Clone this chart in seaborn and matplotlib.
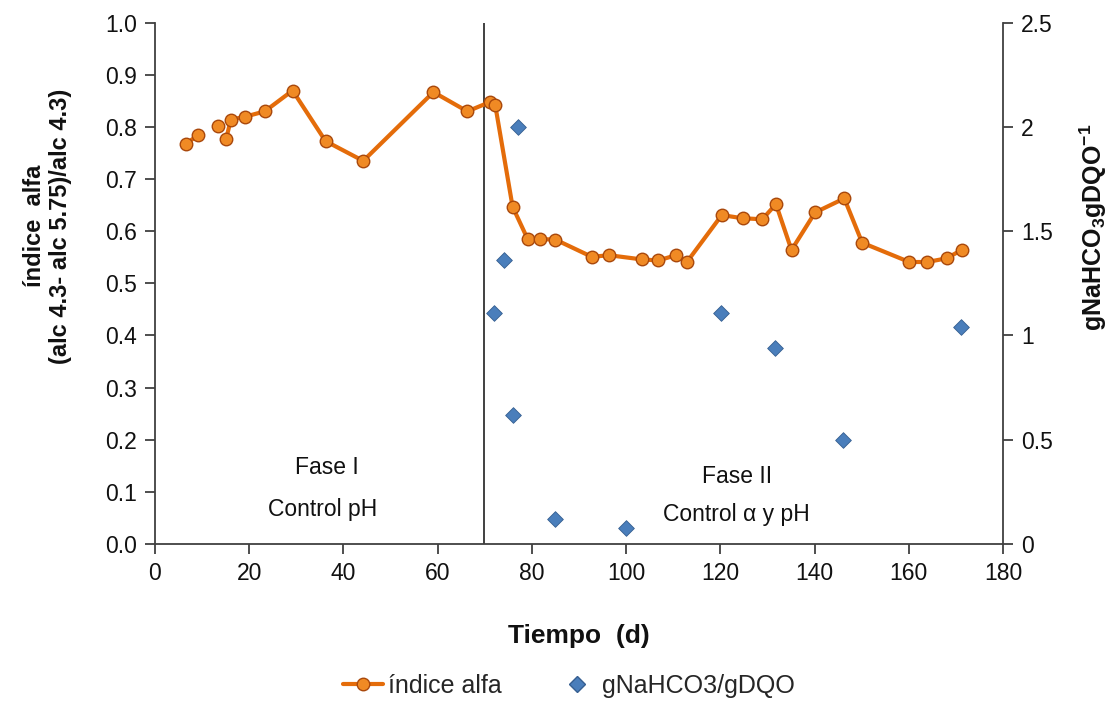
import numpy as np
import pandas as pd
import matplotlib
matplotlib.use("Agg")
import matplotlib.pyplot as plt
import seaborn as sns
from matplotlib.lines import Line2D

# ---------------- data ----------------
dias_alfa = [6.5, 9.2, 13.4, 15.1, 16.1, 19.2, 23.3, 29.2, 36.2, 44.2, 59.1, 66.3,
             71.1, 72.2, 75.9, 79.1, 81.8, 85.0, 92.7, 96.4, 103.3, 106.8, 110.6,
             112.9, 120.3, 124.7, 128.9, 131.8, 135.1, 140.1, 146.3, 150.1, 160.1,
             163.9, 168.0, 171.2]
indice_alfa = [0.767, 0.785, 0.801, 0.777, 0.814, 0.820, 0.830, 0.870, 0.773, 0.735,
               0.867, 0.830, 0.848, 0.843, 0.647, 0.585, 0.585, 0.584, 0.551, 0.554,
               0.546, 0.544, 0.554, 0.541, 0.631, 0.625, 0.623, 0.652, 0.564, 0.636,
               0.663, 0.578, 0.541, 0.541, 0.548, 0.564]
# segment id (the original series has gaps after day 9 and day 13)
tramo_alfa = [0, 0, 1] + [2] * 33

dias_bic = [72.0, 74.1, 75.9, 77.0, 84.9, 100.0, 120.1, 131.6, 146.1, 171.0]
bic_dqo = [1.11, 1.36, 0.62, 2.0, 0.12, 0.075, 1.11, 0.94, 0.50, 1.04]

x_ticks = list(range(0, 181, 20))
y_left_ticks = [round(0.1 * i, 1) for i in range(11)]
y_right_ticks = [0, 0.5, 1, 1.5, 2, 2.5]
y_right_labels = ["0", "0.5", "1", "1.5", "2", "2.5"]
limite_fases = 69.8

fase1_texto = ["Fase I", "Control pH"]
fase2_texto = ["Fase II", "Control \u03b1 y pH"]

# ---------------- style ----------------
sns.set_style("ticks")
plt.rcParams["font.family"] = ["Liberation Sans", "DejaVu Sans"]
plt.rcParams["mathtext.fontset"] = "custom"
plt.rcParams["mathtext.rm"] = "Liberation Sans"
plt.rcParams["mathtext.bf"] = "Liberation Sans:bold"

naranja = "#E46C0A"
naranja_cara = "#F08A24"
naranja_borde = "#A9480C"
azul = "#4A7EBB"
azul_borde = "#365F91"
gris = "#404040"
texto = "#111111"

fig = plt.figure(figsize=(11.15, 7.12), dpi=100)
ax = fig.add_axes([0.139, 0.236, 0.7606, 0.732])

df_alfa = pd.DataFrame({"Tiempo": dias_alfa, "alfa": indice_alfa, "tramo": tramo_alfa})
sns.lineplot(data=df_alfa, x="Tiempo", y="alfa", units="tramo", estimator=None,
             color=naranja, lw=3.0, marker="o", markersize=9,
             markerfacecolor=naranja_cara, markeredgecolor=naranja_borde,
             markeredgewidth=1.0, ax=ax, legend=False, zorder=3)

ax.axvline(limite_fases, color=gris, lw=1.4, zorder=1)

ax2 = ax.twinx()
df_bic = pd.DataFrame({"Tiempo": dias_bic, "bic": bic_dqo})
sns.scatterplot(data=df_bic, x="Tiempo", y="bic", marker="D", s=64, color=azul,
                edgecolor=azul_borde, linewidth=0.6, ax=ax2, legend=False, zorder=4)

ax.set_xlim(0, 180)
ax.set_ylim(0, 1.0)
ax2.set_ylim(0, 2.5)
ax.set_xticks(x_ticks)
ax.set_yticks(y_left_ticks)
ax.set_yticklabels([f"{v:.1f}" for v in y_left_ticks])
ax2.set_yticks(y_right_ticks)
ax2.set_yticklabels(y_right_labels)

for a in (ax, ax2):
    a.spines["top"].set_visible(False)
    for s in a.spines.values():
        s.set_color(gris)
        s.set_linewidth(1.3)
    a.tick_params(direction="out", length=7, width=1.3, color=gris,
                  labelsize=16.5, labelcolor=texto, pad=6)
ax.spines["right"].set_visible(False)
ax2.spines["left"].set_visible(False)
ax2.spines["bottom"].set_visible(False)

ax.set_xlabel("Tiempo  (d)", fontsize=19, fontweight="bold", labelpad=28, color=texto)
ax.set_ylabel("índice  alfa\n(alc 4.3- alc 5.75)/alc 4.3)", fontsize=17,
              fontweight="bold", linespacing=1.15, color=texto)
ax.yaxis.set_label_coords(-0.098, 0.61)
ax2.set_ylabel(r"gNaHCO$_\mathbf{3}$gDQO$^\mathbf{-1}$", fontsize=18,
               fontweight="bold", color=texto)
ax2.yaxis.set_label_coords(1.088, 0.607)

ax.text(36.5, 0.147, fase1_texto[0], ha="center", va="center", fontsize=16.5, color=texto)
ax.text(35.5, 0.066, fase1_texto[1], ha="center", va="center", fontsize=16.5, color=texto)
ax.text(123.5, 0.129, fase2_texto[0], ha="center", va="center", fontsize=16.5, color=texto)
ax.text(123.5, 0.056, fase2_texto[1], ha="center", va="center", fontsize=16.5, color=texto)

handles = [
    Line2D([], [], color=naranja, lw=3.0, marker="o", markersize=9,
           markerfacecolor=naranja_cara, markeredgecolor=naranja_borde),
    Line2D([], [], color=azul, lw=0, marker="D", markersize=8,
           markerfacecolor=azul, markeredgecolor=azul_borde),
]
fig.legend(handles, ["índice alfa", "gNaHCO3/gDQO"], loc="lower center",
           bbox_to_anchor=(0.51, -0.012), ncol=2, frameon=False, fontsize=18,
           handlelength=1.6, handletextpad=0.2, columnspacing=2.2)

fig.savefig("out.png", dpi=100)
